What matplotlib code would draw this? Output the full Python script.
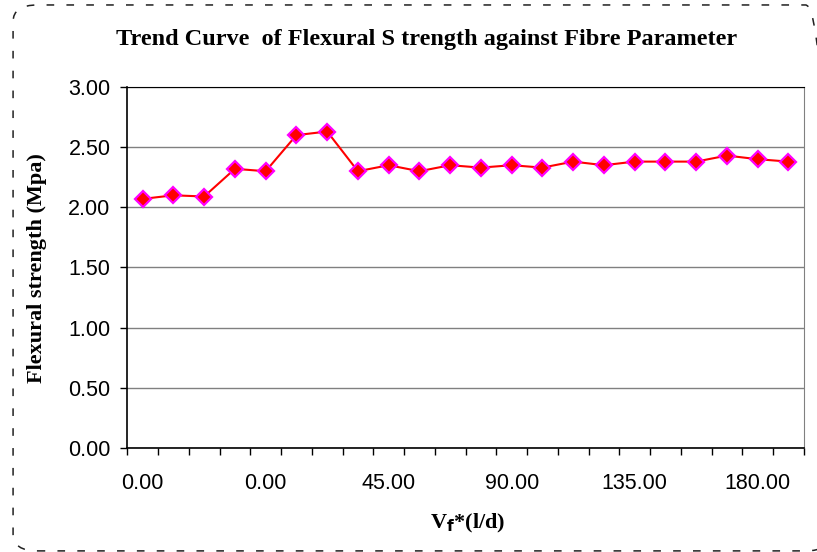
import matplotlib
matplotlib.use("Agg")
import matplotlib.pyplot as plt
import numpy as np
from matplotlib.patches import FancyBboxPatch

# Flexural strength per fibre-parameter category
strength = [2.07, 2.10, 2.09, 2.32, 2.30, 2.60, 2.63, 2.30, 2.35, 2.30, 2.35,
            2.33, 2.35, 2.33, 2.38, 2.35, 2.38, 2.38, 2.38, 2.43, 2.40, 2.38]
label_positions = [0, 4, 8, 12, 16, 20]
x_labels = ["0.00", "0.00", "45.00", "90.00", "135.00", "180.00"]
y_ticks = [0.0, 0.5, 1.0, 1.5, 2.0, 2.5, 3.0]

SERIF = "Liberation Serif"
SANS = "Liberation Sans"

fig = plt.figure(figsize=(8.17, 5.52), dpi=100)
ax = fig.add_axes([0.1558, 0.1884, 0.828, 0.654])

x = np.arange(len(strength))
ax.plot(x, strength, color="red", lw=1.5, zorder=3,
        marker="D", markersize=8.5, markerfacecolor="red",
        markeredgecolor="magenta", markeredgewidth=1.6)

ax.set_xlim(-0.5, len(strength) - 0.5)
ax.set_ylim(0, 3.0)

# category boundaries carry the tick marks, labels sit on category centres
ax.set_xticks(np.arange(-0.5, len(strength)), labels=[])
ax.set_xticks(label_positions, labels=x_labels, minor=True)
ax.tick_params(axis="x", which="major", direction="out", length=5, width=1, color="black")
ax.tick_params(axis="x", which="minor", length=0, pad=18)
for t in ax.get_xticklabels(minor=True):
    t.set_fontfamily(SANS)
    t.set_fontsize(15.5)

ax.set_yticks(y_ticks, labels=[f"{v:.2f}" for v in y_ticks])
ax.tick_params(axis="y", direction="out", length=5, width=1, pad=7)
for t in ax.get_yticklabels():
    t.set_fontfamily(SANS)
    t.set_fontsize(15.5)

ax.yaxis.grid(True, color="#808080", lw=1)
ax.set_axisbelow(True)

for side in ["left", "bottom"]:
    ax.spines[side].set_color("black")
    ax.spines[side].set_linewidth(1.2)
ax.spines["top"].set_color("black")
ax.spines["right"].set_color("#808080")

fig.text(0.522, 0.928, "Trend Curve  of Flexural S trength against Fibre Parameter",
         family=SERIF, weight="bold", fontsize=17.5, ha="center", va="center")
fig.text(0.045, 0.515, "Flexural strength (Mpa)", family=SERIF, weight="bold",
         fontsize=16, rotation=90, ha="center", va="center")
fig.text(0.573, 0.052, r"V$_\mathbf{f}$*(l/d)", family=SERIF, weight="bold",
         fontsize=16, ha="center", va="center")

# dashed rounded frame around the whole chart (right edge runs off the canvas)
frame = FancyBboxPatch((0.016, 0.002), 1.0, 0.989, transform=fig.transFigure,
                       boxstyle="round,pad=0,rounding_size=0.03",
                       fill=False, ls=(0, (5, 8)), lw=1.1, ec="#202020")
fig.patches.append(frame)

fig.savefig("out.png", dpi=100)
